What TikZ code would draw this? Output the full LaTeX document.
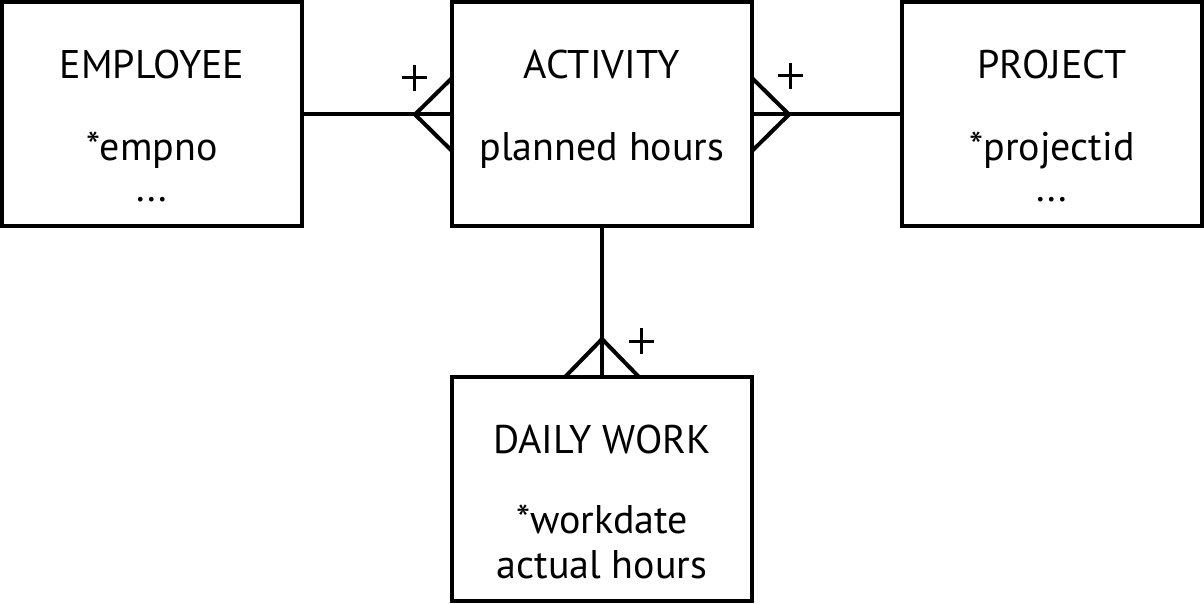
\documentclass[tikz,border=0pt]{standalone}
\usepackage{fontspec}
\setmainfont{PT Sans}
\usetikzlibrary{calc}
\begin{document}
\begin{tikzpicture}[x=0.5pt,y=-0.5pt,
  box/.style={draw,line width=2pt,minimum width=150pt,minimum height=112pt,inner sep=0pt,outer sep=0pt},
  conn/.style={line width=2pt},
  txt/.style={anchor=base,inner sep=0pt,font=\fontsize{20}{22}\selectfont},
  plusline/.style={line width=1.5pt}]
\useasboundingbox (0,0) rectangle (1204,604);
% boxes
\node[box] (emp) at (152,114.5) {};
\node[box] (act) at (602,114.5) {};
\node[box] (prj) at (1052,114.5) {};
\node[box] (dw) at (602,489) {};
% texts
\node[txt] (t1) at (152,79) {EMPLOYEE};
\node[txt] (t2) at (152,161) {*empno};
\node[txt] (t3) at (152,202) {...};
\node[txt] (t4) at (602,79) {ACTIVITY};
\node[txt] (t5) at (602,161) {planned hours};
\node[txt] (t6) at (1052,79) {PROJECT};
\node[txt] (t7) at (1052,161) {*projectid};
\node[txt] (t8) at (1052,202) {...};
\node[txt] (t9) at (602,453) {DAILY WORK};
\node[txt] (t10) at (602,533) {*workdate};
\node[txt] (t11) at (602,578) {actual hours};
% connectors
\coordinate (c1) at (415,114.5);
\coordinate (c2) at (789,114.5);
\coordinate (c3) at (602,339);
\draw[conn] (emp.east) -- (act.west);
\draw[conn] ($(act.west)+(0,-36.5)$) -- (c1) -- ($(act.west)+(0,36.5)$);
\draw[conn] (act.east) -- (prj.west);
\draw[conn] ($(act.east)+(0,-36.5)$) -- (c2) -- ($(act.east)+(0,36.5)$);
\draw[conn] (act.south) -- (dw.north);
\draw[conn] ($(dw.north)+(-37,0)$) -- (c3) -- ($(dw.north)+(37,0)$);
% multiplicities
\coordinate (p1) at (414,78);
\coordinate (p2) at (790,76);
\coordinate (p3) at (641,341);
\foreach \p in {p1,p2,p3}{
  \draw[plusline] ($(\p)+(-12.5,0)$) -- ($(\p)+(12.5,0)$);
  \draw[plusline] ($(\p)+(0,-13)$) -- ($(\p)+(0,13)$);
}
\end{tikzpicture}
\end{document}
